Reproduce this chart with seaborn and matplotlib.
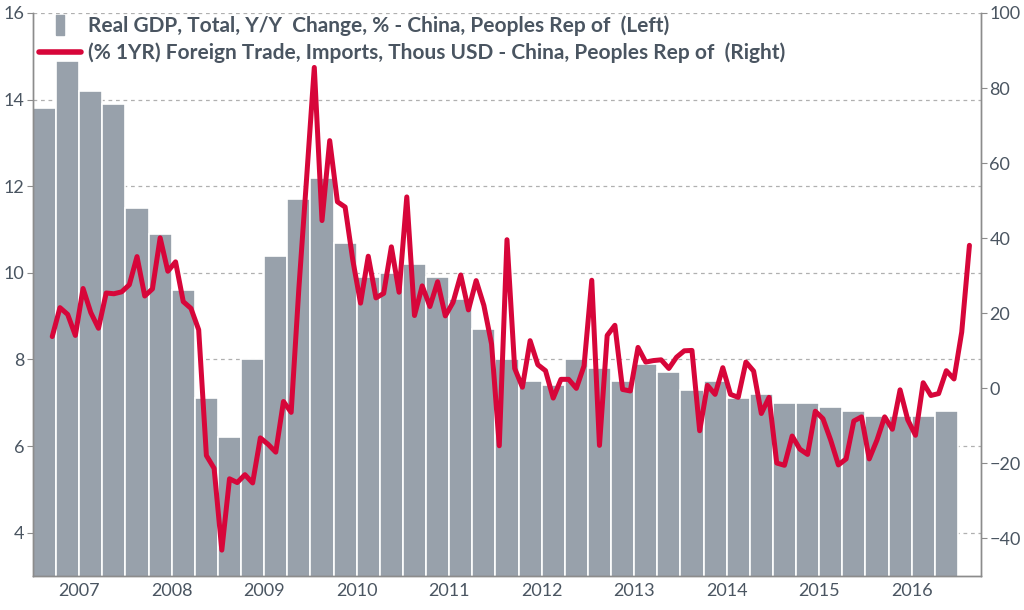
import matplotlib
matplotlib.use("Agg")
import matplotlib.pyplot as plt
import numpy as np
import pandas as pd
import seaborn as sns
from matplotlib.lines import Line2D

# Real GDP y/y %, quarterly 2007Q1 - 2016Q4 (left axis)
quarters = pd.period_range("2007Q1", "2016Q4", freq="Q")
gdp = [13.8, 14.9, 14.2, 13.9, 11.5, 10.9, 9.6, 7.1,
       6.2, 8.0, 10.4, 11.7, 12.2, 10.7, 9.9, 10.0,
       10.2, 9.9, 9.4, 8.7, 8.0, 7.5, 7.4, 8.0,
       7.8, 7.5, 7.9, 7.7, 7.3, 7.5, 7.1, 7.2,
       7.0, 7.0, 6.9, 6.8, 6.7, 6.7, 6.7, 6.8]

# Imports y/y %, monthly Mar 2007 - Feb 2017 (right axis)
months = pd.period_range("2007-03", "2017-02", freq="M")
imports = [13.8, 21.5, 19.7, 14.1, 26.6, 20.2, 16.0, 25.4, 25.2, 25.7,
           27.6, 35.1, 24.6, 26.5, 40.1, 31.2, 33.7, 23.1, 21.3, 15.6, -17.9, -21.3,
           -43.1, -24.1, -25.1, -23.0, -25.2, -13.2, -14.9, -17.0, -3.5, -6.4, 26.7, 55.9,
           85.5, 44.7, 66.0, 49.7, 48.3, 34.1, 22.7, 35.2, 24.1, 25.3, 37.7, 25.6,
           51.0, 19.4, 27.3, 21.8, 28.4, 19.3, 22.9, 30.2, 20.9, 28.7, 22.1, 11.8,
           -15.3, 39.6, 5.3, 0.3, 12.7, 6.3, 4.7, -2.6, 2.4, 2.4, 0.0, 6.0,
           28.8, -15.2, 14.1, 16.8, -0.3, -0.7, 10.9, 7.0, 7.4, 7.6, 5.3, 8.3,
           10.0, 10.1, -11.3, 0.8, -1.6, 5.5, -1.6, -2.4, 7.0, 4.6, -6.7, -2.4,
           -19.9, -20.5, -12.7, -16.2, -17.6, -6.1, -8.1, -13.8, -20.4, -18.8, -8.7, -7.6,
           -18.8, -13.8, -7.6, -10.9, -0.4, -8.4, -12.5, 1.5, -1.9, -1.4, 4.7, 2.5,
           15.0, 38.1]

years = list(range(2007, 2017))

gdp_label = "Real GDP, Total, Y/Y  Change, % - China, Peoples Rep of  (Left)"
imp_label = "(% 1YR) Foreign Trade, Imports, Thous USD - China, Peoples Rep of  (Right)"

BAR_COLOR = "#98a1ab"
LINE_COLOR = "#d7063a"
TEXT_COLOR = "#4a5561"
SPINE_COLOR = "#8c8c8c"

sns.set_style("white")
plt.rcParams["font.family"] = ["Lato", "DejaVu Sans"]

# x in months since Jan 2007
def month_pos(p):
    return (p.year - 2007) * 12 + (p.month - 1)

df_q = pd.DataFrame({
    "x": [month_pos(q.asfreq("M", "start")) + 1.5 for q in quarters],
    "gdp": gdp,
})
df_m = pd.DataFrame({
    "x": [month_pos(m) + 0.5 for m in months],
    "imports": imports,
})

fig = plt.figure(figsize=(10.24, 6.10), dpi=100)
ax = fig.add_axes([0.0322, 0.0557, 0.9258, 0.923])

for v in range(4, 17, 2):
    ax.axhline(v, color="#b0b0b0", lw=0.9, ls=(0, (3, 3)), zorder=0)

sns.barplot(data=df_q, x="x", y="gdp", native_scale=True, width=1.0,
            color=BAR_COLOR, edgecolor="white", linewidth=1.2,
            errorbar=None, saturation=1, ax=ax, zorder=2)

ax.set_xlim(0, 123)
ax.set_ylim(3, 16)
ax.set_yticks(range(4, 17, 2))
ax.set_xticks([12 * i for i in range(11)])
ax.set_xticklabels([])
ax.set_xticks([12 * i + 6 for i in range(10)], minor=True)
ax.set_xticklabels([str(y) for y in years], minor=True)
ax.tick_params(axis="x", which="major", length=5, color=SPINE_COLOR, direction="out")
ax.tick_params(axis="x", which="minor", length=0, pad=5, labelsize=13, labelcolor=TEXT_COLOR)
ax.tick_params(axis="y", length=4, color=SPINE_COLOR, labelsize=13,
               labelcolor=TEXT_COLOR, pad=2)
ax.set_xlabel("")
ax.set_ylabel("")

ax2 = ax.twinx()
sns.lineplot(data=df_m, x="x", y="imports", color=LINE_COLOR, lw=3.6,
             ax=ax2, zorder=3)
ax2.set_ylim(-50, 100)
ax2.set_yticks(range(-40, 101, 20))
ax2.set_ylabel("")
ax2.set_xlim(0, 123)
ax2.tick_params(axis="y", length=4, color=SPINE_COLOR, labelsize=13,
                labelcolor=TEXT_COLOR, pad=2)

for a in (ax, ax2):
    a.spines["top"].set_visible(False)
    for s in ("left", "bottom", "right"):
        a.spines[s].set_color(SPINE_COLOR)
        a.spines[s].set_linewidth(1.0)

bar_marker = [(-0.45, -1), (0.45, -1), (0.45, 1), (-0.45, 1), (-0.45, -1)]
handles = [
    Line2D([], [], ls="none", marker=bar_marker, markersize=14,
           markerfacecolor=BAR_COLOR, markeredgecolor=BAR_COLOR),
    Line2D([], [], color=LINE_COLOR, lw=4),
]
leg = ax2.legend(handles, [gdp_label, imp_label], loc="upper left",
                 bbox_to_anchor=(0.0, 1.006), frameon=False,
                 prop={"size": 15.0, "weight": "bold"}, handlelength=2.0,
                 handletextpad=0.35, labelspacing=0.28, borderaxespad=0.1,
                 borderpad=0.2)
for t in leg.get_texts():
    t.set_color(TEXT_COLOR)

fig.savefig("out.png", dpi=100)
